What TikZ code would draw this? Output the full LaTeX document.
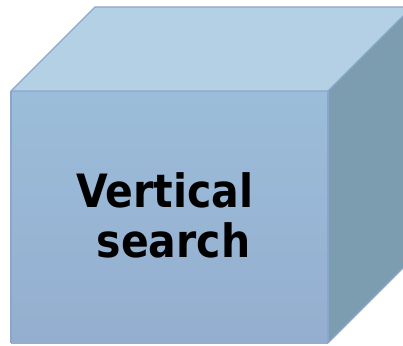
\documentclass[tikz,border=0pt]{standalone}
\usepackage{fontspec}
\setmainfont{DejaVu Sans}
\usepackage{graphicx}
\definecolor{topface}{RGB}{179,208,229}
\definecolor{frontTop}{RGB}{155,189,218}
\definecolor{frontBot}{RGB}{149,174,207}
\definecolor{sideface}{RGB}{124,157,176}
\definecolor{edgecol}{RGB}{140,166,203}
\tikzset{
  face/.style={draw=edgecol, line width=1.3pt, line join=round},
  lbl/.style={inner sep=0pt, font=\fontsize{41}{50}\selectfont\bfseries, text=black, anchor=base}
}
\begin{document}
\begin{tikzpicture}[x=1pt,y=-1pt]
\useasboundingbox (0,0) rectangle (403,345);
\clip (0,0) rectangle (403,345);
% coordinates
\coordinate (fA) at (11,91);
\coordinate (fB) at (328,91);
\coordinate (fC) at (328,343);
\coordinate (fD) at (11,343);
\coordinate (bA) at (95,7);
\coordinate (bB) at (412,7);
\coordinate (bC) at (412,259);
% top face
\fill[topface] (fA) -- (bA) -- (bB) -- (fB) -- cycle;
% right face
\fill[sideface] (fB) -- (bB) -- (bC) -- (fC) -- cycle;
% front face
\shade[top color=frontTop, bottom color=frontBot] (fA) rectangle (fC);
% edges
\draw[face] (fA) -- (bA) -- (bB);
\draw[face] (fA) -- (fB) -- (bB);
\draw[face] (fB) -- (fC);
\draw[face] (fC) -- (bC);
\draw[face] (fA) -- (fD);
% labels
\node[lbl] (l1) at (165,207) {\scalebox{1}[1.12]{Vertical}};
\node[lbl] (l2) at (173.5,257) {\scalebox{1}[1.12]{search}};
\end{tikzpicture}
\end{document}
